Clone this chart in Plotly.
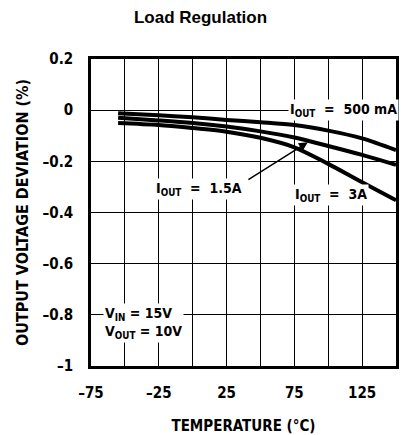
import plotly.graph_objects as go

temps = [-55, -25, 0, 25, 50, 75, 100, 125, 150]
dev_500mA = [-0.012, -0.02, -0.028, -0.038, -0.047, -0.058, -0.08, -0.11, -0.156]
dev_1p5A = [-0.03, -0.04, -0.05, -0.064, -0.083, -0.107, -0.14, -0.175, -0.214]
dev_3A = [-0.05, -0.058, -0.07, -0.084, -0.108, -0.145, -0.21, -0.282, -0.352]

x_ticks = [-75, -50, -25, 0, 25, 50, 75, 100, 125, 150]
x_labels = ["\u201375", "", "\u201325", "", "25", "", "75", "", "125", ""]
y_ticks = [0.2, 0, -0.2, -0.4, -0.6, -0.8, -1]
y_labels = ["0.2", "0", "\u20130.2", "\u20130.4", "\u20130.6", "\u20130.8", "\u20131"]

FONT = "DejaVu Sans Condensed, Liberation Sans Narrow, Arial"

fig = go.Figure()
for ys in (dev_500mA, dev_1p5A, dev_3A):
    fig.add_trace(go.Scatter(x=temps, y=ys, mode="lines",
                             line=dict(color="black", width=4, shape="spline", smoothing=0.9),
                             showlegend=False, hoverinfo="skip"))

ann_font = dict(family=FONT, size=14, color="black", weight="bold")
fig.add_annotation(x=111, y=0, text="I<sub>OUT</sub>  =  500 mA", showarrow=False,
                   font=ann_font, bgcolor="white", xanchor="center", yanchor="middle")
fig.add_annotation(x=5, y=-0.31, text="I<sub>OUT</sub>  =  1.5A", showarrow=False,
                   font=ann_font, bgcolor="white", xanchor="center", yanchor="middle")
fig.add_annotation(x=102, y=-0.33, text="I<sub>OUT</sub>  =  3A", showarrow=False,
                   font=ann_font, bgcolor="white", xanchor="center", yanchor="middle")
fig.add_annotation(x=85, y=-0.125, ax=40, ay=-0.275, axref="x", ayref="y",
                   text="", showarrow=True, arrowhead=2, arrowsize=1.2, arrowwidth=1.5,
                   arrowcolor="black")
fig.add_annotation(x=-66, y=-0.8, text="V<sub>IN</sub> = 15V<br>V<sub>OUT</sub> = 10V",
                   showarrow=False, font=ann_font, bgcolor="white", align="left",
                   xanchor="left", yanchor="top", yshift=12)

fig.update_layout(
    width=401, height=435,
    margin=dict(l=91, r=2, t=59, b=69),
    paper_bgcolor="white", plot_bgcolor="white",
    title=dict(text="Load Regulation", x=0.5, xanchor="center", y=0.96, yanchor="middle",
               font=dict(family="Liberation Sans, Arial", size=17, color="black", weight="bold")),
    xaxis=dict(range=[-75, 150], tickvals=x_ticks, ticktext=x_labels,
               showgrid=True, gridcolor="black", gridwidth=1.3,
               showline=True, linecolor="black", linewidth=2.5, mirror=True,
               zeroline=False, ticks="", ticklabelstandoff=11,
               tickfont=dict(family=FONT, size=15, color="black", weight="bold"),
               title=dict(text="TEMPERATURE (\u00b0C)",
                          font=dict(family=FONT, size=15, color="black", weight="bold"), standoff=20)),
    yaxis=dict(range=[-1, 0.2], tickvals=y_ticks, ticktext=y_labels,
               showgrid=True, gridcolor="black", gridwidth=1.3,
               showline=True, linecolor="black", linewidth=2.5, mirror=True,
               zeroline=False, ticks="", ticklabelstandoff=12,
               tickfont=dict(family=FONT, size=15, color="black", weight="bold"),
               title=dict(text="OUTPUT VOLTAGE DEVIATION (%)",
                          font=dict(family=FONT, size=16, color="black", weight="bold"), standoff=10)),
)

fig.write_html("out.html", config={"displayModeBar": False},
               post_script="document.body.style.margin='0';document.body.style.overflow='hidden';")
